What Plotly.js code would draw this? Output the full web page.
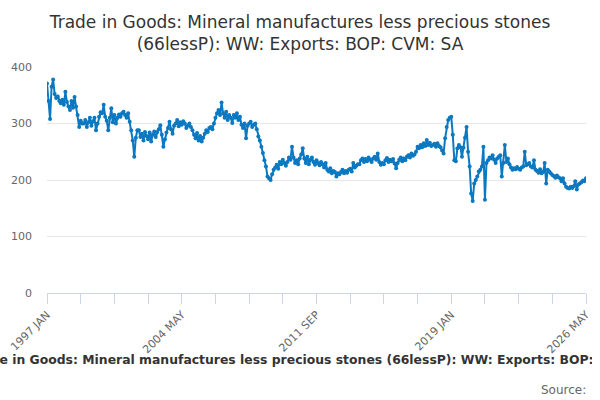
<!DOCTYPE html>
<html>
<head>
<meta charset="utf-8">
<script src="https://cdn.plot.ly/plotly-3.0.1.min.js"></script>
<style>
  html, body { margin: 0; padding: 0; background: #fff; }
  #chart { width: 600px; height: 400px; }
</style>
</head>
<body>
<div id="chart"></div>
<script>
const startYear = 1997
const monthNames = ['JAN', 'FEB', 'MAR', 'APR', 'MAY', 'JUN', 'JUL', 'AUG', 'SEP', 'OCT', 'NOV', 'DEC']

// monthly values (£ million, CVM, SA)
const exports1997to2001 = [
  371, 340, 308, 365, 378, 352, 345, 348, 340, 336, 342, 333,
  356, 338, 330, 324, 340, 328, 347, 330, 315, 294, 305, 300,
  300, 306, 294, 302, 310, 296, 304, 310, 288, 300, 312, 320,
  318, 333, 312, 305, 288, 310, 327, 302, 315, 300, 310, 316,
  312, 318, 321, 315, 310, 318, 303, 288, 270, 241, 275, 288,
]
const exports2002to2006 = [
  288, 276, 282, 270, 285, 278, 272, 284, 268, 280, 286, 276,
  285, 290, 297, 280, 259, 272, 284, 292, 303, 290, 282, 296,
  300, 306, 295, 302, 298, 304, 300, 292, 296, 300, 294, 288,
  280, 274, 283, 270, 278, 268, 275, 282, 288, 285, 292, 294,
  290, 300, 310, 318, 324, 315, 337, 318, 310, 321, 306, 315,
]
const exports2007to2011 = [
  310, 301, 315, 310, 318, 306, 312, 298, 292, 300, 274, 296,
  300, 303, 294, 298, 300, 290, 277, 270, 259, 248, 235, 224,
  206, 203, 200, 210, 218, 222, 227, 220, 232, 228, 236, 230,
  225, 232, 240, 236, 259, 240, 230, 235, 228, 238, 245, 256,
  238, 230, 241, 228, 236, 240, 232, 227, 235, 230, 226, 232,
]
const exports2012to2016 = [
  228, 222, 230, 218, 215, 221, 212, 216, 214, 206, 212, 210,
  214, 218, 212, 216, 213, 218, 220, 215, 230, 222, 225, 228,
  228, 235, 238, 232, 237, 233, 240, 236, 232, 238, 241, 236,
  247, 232, 227, 230, 228, 235, 239, 232, 236, 233, 237, 229,
  221, 230, 236, 240, 233, 238, 235, 241, 244, 240, 247, 243,
]
const exports2017to2021 = [
  245, 250, 259, 256, 262, 258, 265, 260, 271, 262, 266, 260,
  262, 264, 259, 265, 260, 258, 252, 247, 274, 294, 306, 310,
  312, 280, 235, 233, 256, 262, 258, 241, 257, 275, 294, 250,
  224, 176, 163, 194, 200, 206, 215, 218, 224, 259, 165, 230,
  235, 240, 238, 244, 236, 230, 238, 241, 244, 206, 230, 262,
]
const exports2022to2026 = [
  232, 238, 228, 222, 218, 221, 219, 223, 220, 218, 222, 224,
  250, 226, 228, 230, 224, 222, 235, 218, 216, 213, 219, 212,
  214, 230, 194, 218, 215, 212, 209, 207, 204, 208, 205, 203,
  198, 203, 194, 188, 186, 185, 188, 186, 189, 198, 183, 192,
  194, 196, 199, 198, 203,
]

const yTicks = [0, 100, 200, 300, 400]
const titleText = 'Trade in Goods: Mineral manufactures less precious stones (66lessP): WW: Exports: BOP: CVM: SA'

const values = [].concat(exports1997to2001, exports2002to2006, exports2007to2011,
  exports2012to2016, exports2017to2021, exports2022to2026)
const labels = values.map((_, i) =>
  (startYear + Math.floor(i / 12)) + ' ' + monthNames[i % 12])

// ticks every 22 months, a label on every 4th one
const tickVals = []
const tickText = []
for (let i = 0; i < labels.length; i += 22) {
  tickVals.push(labels[i])
  tickText.push(i % 88 === 0 ? labels[i] : '')
}

const blue = '#0b78c0'
const font = 'DejaVu Sans, Liberation Sans, sans-serif'

const data = [{
  x: labels,
  y: values,
  type: 'scatter',
  mode: 'lines+markers',
  line: { color: blue, width: 2 },
  marker: { color: blue, size: 4 },
  hoverinfo: 'x+y',
}]

const layout = {
  width: 600,
  height: 400,
  paper_bgcolor: '#fff',
  plot_bgcolor: '#fff',
  showlegend: false,
  font: { family: font, size: 11, color: '#666' },
  margin: { l: 47, r: 14, t: 67, b: 107 },
  title: {
    text: 'Trade in Goods: Mineral manufactures less precious stones<br>(66lessP): WW: Exports: BOP: CVM: SA',
    x: 0.5,
    xref: 'container',
    y: 0.93,
    yref: 'container',
    yanchor: 'top',
    font: { family: font, size: 17, color: '#333' },
  },
  xaxis: {
    type: 'category',
    range: [0, labels.length - 1],
    tickmode: 'array',
    tickvals: tickVals,
    ticktext: tickText,
    tickangle: -45,
    ticks: 'outside',
    ticklen: 10,
    tickcolor: '#ccd6eb',
    showline: true,
    linecolor: '#ccd6eb',
    linewidth: 1,
    showgrid: false,
    zeroline: false,
    tickfont: { family: font, size: 11, color: '#666' },
    fixedrange: true,
  },
  yaxis: {
    range: [0, 400],
    tickmode: 'array',
    tickvals: yTicks,
    showgrid: true,
    gridcolor: '#e6e6e6',
    zeroline: false,
    showline: false,
    ticks: '',
    ticklabelstandoff: 14,
    tickfont: { family: font, size: 11, color: '#666' },
    fixedrange: true,
  },
  annotations: [
    {
      // caption box ends just after "BOP:", so the rest is clipped as in the original
      text: '<b>' + titleText + '</b>',
      xref: 'paper', yref: 'paper',
      x: -0.1484, y: -0.295,
      xanchor: 'left', yanchor: 'middle',
      width: 623,
      align: 'left',
      showarrow: false,
      font: { family: font, size: 12.4, color: '#333' },
    },
    {
      text: 'Source:',
      xref: 'paper', yref: 'paper',
      x: 1.004, y: -0.43,
      xanchor: 'right', yanchor: 'middle',
      showarrow: false,
      font: { family: font, size: 12, color: '#666' },
    },
  ],
}

Plotly.newPlot('chart', data, layout, { displayModeBar: false, staticPlot: true })
</script>
</body>
</html>
